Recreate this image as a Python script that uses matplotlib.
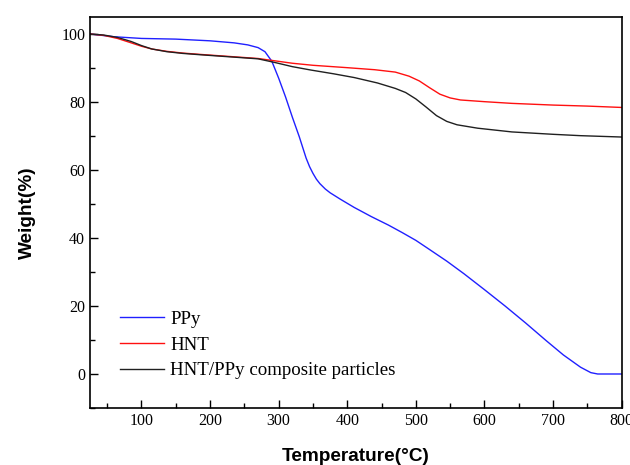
import numpy as np
import matplotlib.pyplot as plt
from matplotlib.ticker import MultipleLocator

# TGA curves
ppy_t = [25, 60, 100, 150, 200, 235, 255, 270, 280, 290, 300, 310, 320, 330, 340, 345, 350, 355, 360,
         368, 375, 390, 410, 435, 460, 480, 500, 520, 545, 570, 600, 630, 660, 690, 715, 740, 755, 765, 800]
ppy_w = [100, 99.2, 98.7, 98.5, 98.0, 97.4, 96.8, 96.0, 94.8, 92.0, 87.0, 81.5, 75.5, 69.8, 63.5,
         61.0, 59.0, 57.3, 56.0, 54.4, 53.3, 51.4, 49.0, 46.3, 43.8, 41.6, 39.3, 36.6, 33.2, 29.5, 24.8,
         20.0, 15.0, 9.8, 5.6, 2.0, 0.4, 0, 0]

hnt_t = [25, 45, 65, 85, 100, 115, 137, 160, 186, 235, 270, 295, 320, 350, 400, 440, 470, 490,
         505, 520, 535, 550, 565, 600, 640, 700, 750, 800]
hnt_w = [100, 99.6, 98.7, 97.4, 96.4, 95.6, 94.9, 94.4, 94.0, 93.3, 92.8, 92.1, 91.4, 90.8, 90.1,
         89.5, 88.8, 87.6, 86.2, 84.2, 82.3, 81.2, 80.6, 80.1, 79.6, 79.1, 78.8, 78.4]

comp_t = [25, 45, 65, 85, 100, 115, 137, 160, 186, 235, 270, 295, 320, 347, 380, 410, 444, 470,
          485, 500, 515, 530, 545, 560, 590, 640, 700, 740, 800]
comp_w = [100, 99.7, 99.0, 97.8, 96.6, 95.6, 94.8, 94.3, 93.9, 93.2, 92.7, 91.6, 90.4, 89.4, 88.3,
          87.2, 85.6, 84.0, 82.8, 80.9, 78.5, 76.0, 74.3, 73.3, 72.3, 71.2, 70.5, 70.1, 69.7]

labels = ['PPy', 'HNT', 'HNT/PPy composite particles']

fig = plt.figure(figsize=(6.3, 4.65), dpi=100)
ax = fig.add_axes([0.1429, 0.1226, 0.8439, 0.8408])

ax.plot(ppy_t, ppy_w, color='#2020ff', lw=1.0, label=labels[0])
ax.plot(hnt_t, hnt_w, color='#ff1010', lw=1.0, label=labels[1])
ax.plot(comp_t, comp_w, color='#202020', lw=1.0, label=labels[2])

ax.set_xlim(25, 800)
ax.set_ylim(-10, 105)
ax.xaxis.set_major_locator(MultipleLocator(100))
ax.xaxis.set_minor_locator(MultipleLocator(50))
ax.yaxis.set_major_locator(MultipleLocator(20))
ax.yaxis.set_minor_locator(MultipleLocator(10))
ax.tick_params(which='both', direction='in', top=False, right=False)
ax.tick_params(which='major', length=6, width=1.0, labelsize=11.5)
ax.tick_params(which='minor', length=3.5, width=1.0)
for lab in ax.get_xticklabels() + ax.get_yticklabels():
    lab.set_family('Liberation Serif')
for sp in ax.spines.values():
    sp.set_linewidth(1.2)

ax.set_xlabel('Temperature(°C)', fontfamily='Liberation Sans', fontweight='bold', fontsize=13.7, labelpad=14)
ax.set_ylabel('Weight(%)', fontfamily='Liberation Sans', fontweight='bold', fontsize=13.7, labelpad=18)

ax.legend(loc='lower left', bbox_to_anchor=(0.025, 0.03), frameon=False,
          prop={'family': 'Liberation Serif', 'size': 13.6}, handlelength=2.3,
          handletextpad=0.35, labelspacing=0.45)

fig.savefig('out.png', dpi=100)
